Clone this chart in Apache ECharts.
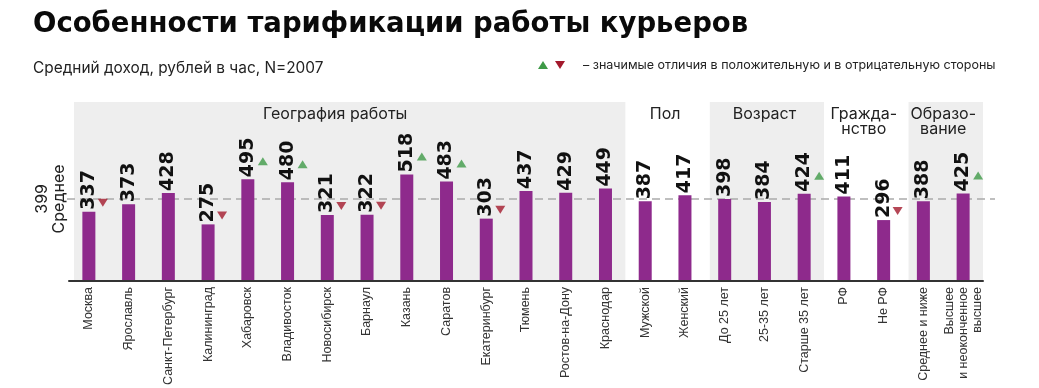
<!DOCTYPE html>
<html><head><meta charset="utf-8">
<script src="https://cdn.jsdelivr.net/npm/echarts@6/dist/echarts.min.js"></script>
<style>html,body{margin:0;padding:0;background:#fff}#c{width:1039px;height:388px}</style>
</head><body><div id="c"></div>
<script>
const categories = ['Москва','Ярославль','Санкт-Петербург','Калининград','Хабаровск','Владивосток','Новосибирск','Барнаул','Казань','Саратов','Екатеринбург','Тюмень','Ростов-на-Дону','Краснодар','Мужской','Женский','До 25 лет','25-35 лет','Старше 35 лет','РФ','Не РФ','Среднее и ниже','Высшее\nи неоконченное\nвысшее'];
const values = [337,373,428,275,495,480,321,322,518,483,303,437,429,449,387,417,398,384,424,411,296,388,425];
// 1 = significantly higher, -1 = significantly lower, 0 = not significant
const significance = [-1,0,0,-1,1,1,-1,-1,1,1,-1,0,0,0,0,0,0,0,1,0,-1,0,1];
const average = 399;
const groupNames = ['География работы','Пол','Возраст','Гражда-\nнство','Образо-\nвание'];
const groupStart = [0,14,16,19,21];
const groupEnd = [13,15,18,20,22];
const groupShaded = [true,false,true,false,true];
const yMax = 870;

const upData = values.map((v,i)=> significance[i]===1 ? v : '-');
const downData = values.map((v,i)=> significance[i]===-1 ? v : '-');

const chart = echarts.init(document.getElementById('c'), null, {renderer:'canvas'});
chart.setOption({
  animation:false,
  backgroundColor:'#ffffff',
  title:[
    {text:'Особенности тарификации работы курьеров', left:28, top:6,
     textStyle:{fontFamily:'DejaVu Sans', fontWeight:'bold', fontSize:27.5, color:'#0a0a0a'}},
    {text:'Средний доход, рублей в час, N=2007', left:28, top:56,
     textStyle:{fontFamily:'Inter', fontWeight:'normal', fontSize:15.4, color:'#222'}}
  ],
  grid:{left:69, right:56, top:102, bottom:107, containLabel:false},
  xAxis:{type:'category', data:categories, z:5,
     axisLine:{lineStyle:{color:'#333', width:2}}, axisTick:{show:false},
     axisLabel:{rotate:90, interval:0, fontSize:12.5, color:'#333', fontFamily:'Liberation Sans', margin:6, lineHeight:14}},
  yAxis:{type:'value', min:0, max:yMax, show:false},
  series:[
    {type:'bar', name:'Средний доход', data:values, barWidth:13, z:3,
     itemStyle:{color:'#8e2a8c'},
     label:{show:true, position:'top', rotate:90, align:'left', verticalAlign:'middle', distance:2,
       fontFamily:'DejaVu Sans', fontWeight:'bold', fontSize:19, color:'#111'}},
    {type:'scatter', name:'up', data:upData, symbol:'triangle', symbolSize:[10,8], symbolOffset:[15,-18], z:4,
     itemStyle:{color:'#3e9a47'}},
    {type:'scatter', name:'down', data:downData, symbol:'triangle', symbolRotate:180, symbolSize:[10,8], symbolOffset:[14,-9], z:4,
     itemStyle:{color:'#a3192c'}}
  ]
});

const graphics = [];
const c0 = chart.convertToPixel({xAxisIndex:0}, categories[0]);
const c1 = chart.convertToPixel({xAxisIndex:0}, categories[1]);
const cN = chart.convertToPixel({xAxisIndex:0}, categories[categories.length-1]);
const band = c1 - c0;
const yTop = chart.convertToPixel({yAxisIndex:0}, yMax);
const yBase = chart.convertToPixel({yAxisIndex:0}, 0);
for (let g=0; g<groupNames.length; g++){
  const xa = chart.convertToPixel({xAxisIndex:0}, categories[groupStart[g]]);
  const xb = chart.convertToPixel({xAxisIndex:0}, categories[groupEnd[g]]);
  if (groupShaded[g]) {
    graphics.push({type:'rect', z:-1, silent:true,
      shape:{x:xa-band/2+5, y:yTop, width:(xb-xa)+band-5, height:yBase-yTop},
      style:{fill:'#eeeeee'}});
  }
  const shift = g===0 ? -12 : 0;
  graphics.push({type:'text', x:(xa+xb)/2+shift, y:107, z:10,
    style:{text:groupNames[g], fill:'#222', font:'16px Inter', textAlign:'center', textVerticalAlign:'top', lineHeight:15}});
}
const yAvg = chart.convertToPixel({yAxisIndex:0}, average);
// average reference line
graphics.push({type:'line', z:1, silent:true,
  shape:{x1:c0-band/2-2, y1:yAvg, x2:cN+band/2+12, y2:yAvg},
  style:{stroke:'#ababab', lineWidth:1.5, lineDash:[8,5]}});
graphics.push({type:'text', x:51, y:yAvg, rotation:Math.PI/2, z:10,
  style:{text:average+'\nСреднее', fill:'#222', font:'16px Inter', textAlign:'center', textVerticalAlign:'middle', lineHeight:17}});
// legend for significance markers
graphics.push({type:'polygon', z:10, shape:{points:[[538,69],[548,69],[543,61]]}, style:{fill:'#3e9a47'}});
graphics.push({type:'polygon', z:10, shape:{points:[[555,61],[565,61],[560,69]]}, style:{fill:'#a3192c'}});
graphics.push({type:'text', x:583, y:65, z:10,
  style:{text:'– значимые отличия в положительную и в отрицательную стороны', fill:'#222', font:'12.5px Inter', textAlign:'left', textVerticalAlign:'middle'}});
chart.setOption({graphic:graphics});
</script>
</body></html>
